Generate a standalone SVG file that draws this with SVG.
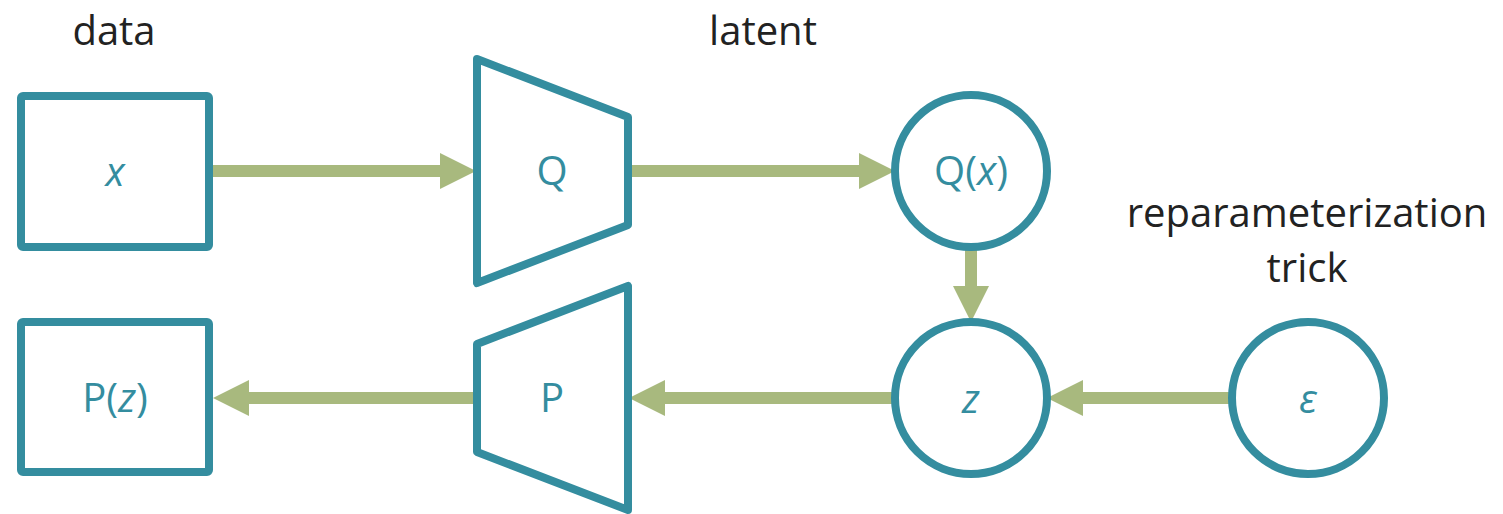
<svg xmlns="http://www.w3.org/2000/svg" width="1503" height="514" viewBox="0 0 1503 514">
  <style>
    .shape { fill: #ffffff; stroke: #348D9F; stroke-width: 8; stroke-linejoin: round; }
    .label { font-family: "Open Sans", "Liberation Sans", sans-serif; font-size: 40px; fill: #348D9F; text-anchor: middle; }
    .caption { font-family: "Open Sans", "Liberation Sans", sans-serif; font-size: 40px; fill: #222222; text-anchor: middle; }
    .it { font-style: italic; }
    .flow { stroke: #A8B97E; stroke-width: 12; fill: none; marker-end: url(#head); }
  </style>
  <defs>
    <!-- arrowhead starts where the shaft stops, so the shaft never shows past the point -->
    <marker id="head" markerUnits="userSpaceOnUse" markerWidth="37" markerHeight="36" refX="0" refY="18" orient="auto">
      <path d="M0,0 L36,18 L0,36 Z" fill="#A8B97E"/>
    </marker>
  </defs>

  <!-- headings -->
  <text class="caption" x="114" y="45">data</text>
  <text class="caption" x="763" y="45">latent</text>
  <text class="caption" x="1307" y="227">reparameterization</text>
  <text class="caption" x="1307" y="282">trick</text>

  <!-- connectors (each path ends at the base of its arrowhead) -->
  <g id="connectors">
    <path class="flow" d="M210,171 H440"/>
    <path class="flow" d="M629,171 H859"/>
    <path class="flow" d="M971,247 V286"/>
    <path class="flow" d="M1233,398 H1083"/>
    <path class="flow" d="M895,398 H665"/>
    <path class="flow" d="M477,398 H249"/>
  </g>

  <g id="node-x">
    <rect class="shape" x="21" y="96" width="188" height="151" rx="2"/>
    <text class="label it" x="115" y="186">x</text>
  </g>

  <g id="node-Q">
    <path class="shape" d="M477,59 L628,117 L628,225 L477,283 Z"/>
    <text class="label" x="552" y="185">Q</text>
  </g>

  <g id="node-Qx">
    <circle class="shape" cx="971" cy="171" r="76"/>
    <text class="label" x="971" y="185">Q(<tspan class="it">x</tspan>)</text>
  </g>

  <g id="node-z">
    <circle class="shape" cx="971" cy="398" r="76"/>
    <text class="label it" x="971" y="413">z</text>
  </g>

  <g id="node-eps">
    <circle class="shape" cx="1308" cy="398" r="76"/>
    <text class="label it" x="1308" y="413">ε</text>
  </g>

  <g id="node-P">
    <path class="shape" d="M477,344 L628,286 L628,510 L477,452 Z"/>
    <text class="label" x="552" y="412">P</text>
  </g>

  <g id="node-Pz">
    <rect class="shape" x="21" y="322" width="188" height="150" rx="2"/>
    <text class="label" x="115" y="412">P(<tspan class="it">z</tspan>)</text>
  </g>
</svg>
